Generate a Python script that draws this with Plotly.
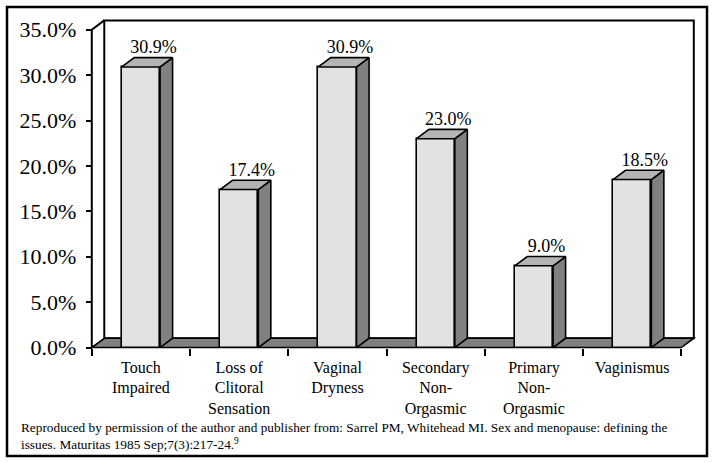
import plotly.graph_objects as go

# ---- data ----
categories = ["Touch<br>Impaired", "Loss of<br>Clitoral<br>Sensation", "Vaginal<br>Dryness",
              "Secondary<br>Non-<br>Orgasmic", "Primary<br>Non-<br>Orgasmic", "Vaginismus"]
values = [30.9, 17.4, 30.9, 23.0, 9.0, 18.5]
y_ticks = [0, 5, 10, 15, 20, 25, 30, 35]
y_tick_labels = [f"{t:.1f}%" for t in y_ticks]
value_labels = [f"{v:.1f}%" for v in values]
caption = ("Reproduced by permission of the author and publisher from: Sarrel PM, Whitehead MI. "
           "Sex and menopause: defining the<br>issues. Maturitas 1985 Sep;7(3):217-24.<sup>9</sup>")

# ---- layout geometry ----
W, H = 715, 463
ML, MR, MT, MB = 80, 16, 17, 110
XR = [-0.62, 5.68]
YR = [-0.6, 36.4]
PW, PH = W - ML - MR, H - MT - MB
px_x = PW / (XR[1] - XR[0])
px_y = PH / (YR[1] - YR[0])
DX = 12.5 / px_x          # depth offset (data units)
DY = 9.3 / px_y
BW = 0.39
YMAX = y_ticks[-1]
n = len(values)
x_lo, x_hi = -0.5, n - 0.5

FONT = "Liberation Serif"
FRONT, SIDE, TOP = "#e2e2e2", "#808080", "#b4b4b4"

fig = go.Figure()

# front faces
fig.add_trace(go.Bar(x=list(range(n)), y=values, width=BW,
                     marker=dict(color=FRONT, line=dict(color="black", width=1.6)),
                     hoverinfo="skip", showlegend=False))

# side and top faces
sx, sy = [], []
tx, ty = [], []
for i, v in enumerate(values):
    r = i + BW / 2
    l = i - BW / 2
    sx += [r, r + DX, r + DX, r, r, None]
    sy += [0, DY, v + DY, v, 0, None]
    tx += [l, r, r + DX, l + DX, l, None]
    ty += [v, v, v + DY, v + DY, v, None]
fig.add_trace(go.Scatter(x=sx, y=sy, mode="lines", fill="toself", fillcolor=SIDE,
                         line=dict(color="black", width=1.6), hoverinfo="skip", showlegend=False))
fig.add_trace(go.Scatter(x=tx, y=ty, mode="lines", fill="toself", fillcolor=TOP,
                         line=dict(color="black", width=1.6), hoverinfo="skip", showlegend=False))

# value labels
fig.add_trace(go.Scatter(x=[i + DX for i in range(n)], y=[v + DY for v in values],
                         mode="text", text=value_labels, textposition="top center",
                         textfont=dict(family=FONT, size=18, color="black"),
                         hoverinfo="skip", showlegend=False))

shapes = [
    # back wall
    dict(type="rect", xref="x", yref="y", x0=x_lo + DX, x1=x_hi + DX, y0=DY, y1=YMAX + DY,
         fillcolor="white", line=dict(color="black", width=2), layer="below"),
    # floor
    dict(type="path", xref="x", yref="y",
         path=f"M {x_lo},0 L {x_hi},0 L {x_hi + DX},{DY} L {x_lo + DX},{DY} Z",
         fillcolor=SIDE, line=dict(color="black", width=1.6), layer="below"),
    # front value axis line
    dict(type="path", xref="x", yref="y",
         path=f"M {x_lo},0 L {x_lo},{YMAX} L {x_lo + DX},{YMAX + DY}",
         line=dict(color="black", width=2), layer="above"),
    # outer frame
    dict(type="rect", xref="paper", yref="paper",
         x0=(7 - ML) / PW, x1=(707 - ML) / PW,
         y0=(H - MB - 456) / PH, y1=(H - MB - 7) / PH,
         line=dict(color="black", width=2.5), fillcolor="rgba(0,0,0,0)"),
]

fig.update_layout(
    width=W, height=H,
    margin=dict(l=ML, r=MR, t=MT, b=MB),
    paper_bgcolor="white", plot_bgcolor="white",
    bargap=0,
    shapes=shapes,
    xaxis=dict(range=XR, anchor="free", position=(0 - YR[0]) / (YR[1] - YR[0]),
               tickmode="array", tickvals=list(range(n)), ticktext=categories,
               ticks="", showline=False, showgrid=False, zeroline=False,
               ticklabelstandoff=8,
               tickfont=dict(family=FONT, size=16, color="black"),
               minor=dict(tickmode="array", tickvals=[x_lo + k for k in range(n + 1)],
                          ticks="outside", ticklen=7, tickwidth=2, tickcolor="black",
                          showgrid=False)),
    yaxis=dict(range=YR, anchor="free", position=(x_lo - XR[0]) / (XR[1] - XR[0]),
               tickmode="array", tickvals=y_ticks, ticktext=y_tick_labels,
               ticks="outside", ticklen=6, tickwidth=2, tickcolor="black",
               showline=False, showgrid=False, zeroline=False, ticklabelstandoff=5,
               tickfont=dict(family=FONT, size=22, color="black")),
    annotations=[dict(text=caption, xref="paper", yref="paper",
                      x=(19 - ML) / PW, y=(H - MB - 436) / PH,
                      xanchor="left", yanchor="middle", align="left", showarrow=False,
                      font=dict(family=FONT, size=13.3, color="black"))],
)

fig.write_html("out.html", config={"displayModeBar": False},
               post_script="document.body.style.margin='0';document.body.style.overflow='hidden';")
